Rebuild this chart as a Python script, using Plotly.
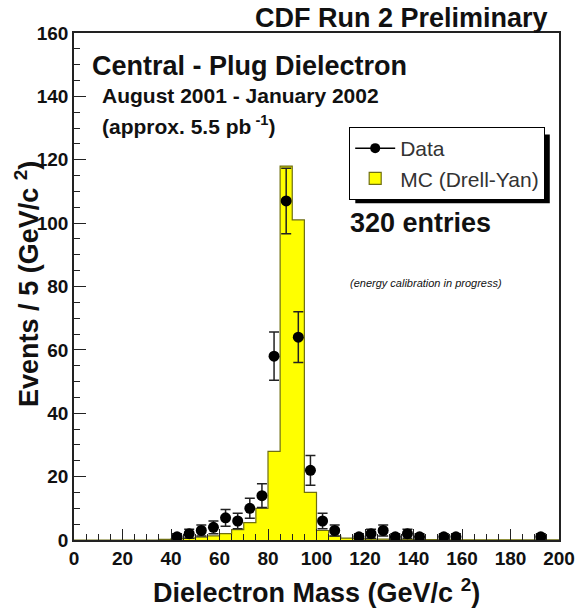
import math
import plotly.graph_objects as go

# Dielectron invariant mass, 5 GeV/c^2 bins from 0 to 200
bin_edges = [5 * i for i in range(41)]

# Drell-Yan Monte Carlo expectation per bin (lower edge -> content)
mc_counts = [
    0, 0, 0, 0, 0, 0, 0, 0.2,          # 0-40
    0.4, 0.6, 0.9, 1.3, 2.0, 3.3, 5.5, 10,  # 40-80
    28, 118, 101, 15, 3.0, 1.2, 0.6, 0.4,    # 80-120
    0.3, 0.25, 0.2, 0.15, 0.12, 0.1, 0.08, 0.07,  # 120-160
    0.06, 0.05, 0.05, 0.04, 0.04, 0.03, 0.03, 0.03,  # 160-200
]

# Observed events (non-empty bins only), bin centres and counts
data_mass = [42.5, 47.5, 52.5, 57.5, 62.5, 67.5, 72.5, 77.5,
             82.5, 87.5, 92.5, 97.5, 102.5, 107.5,
             117.5, 122.5, 127.5, 132.5, 137.5, 142.5, 152.5, 157.5, 192.5]
data_counts = [1, 2, 3, 4, 7, 6, 10, 14,
               58, 107, 64, 22, 6, 3,
               1, 2, 3, 1, 2, 1, 1, 1, 1]
data_errors = [math.sqrt(n) for n in data_counts]

x_ticks = list(range(0, 201, 20))
y_ticks = list(range(0, 161, 20))

FONT = "Liberation Sans"
INK = "#111111"

fig = go.Figure()

# MC histogram as a filled step outline
step_x = bin_edges
step_y = mc_counts + [mc_counts[-1]]
fig.add_trace(go.Scatter(
    x=step_x, y=step_y, mode="lines", line_shape="hv",
    line=dict(color="#6e6e12", width=1.2),
    fill="tozeroy", fillcolor="#ffff00",
    name="MC (Drell-Yan)", showlegend=False, hoverinfo="skip",
))

# Data points with Poisson error bars
fig.add_trace(go.Scatter(
    x=data_mass, y=data_counts, mode="markers",
    marker=dict(symbol="circle", size=11, color="black"),
    error_y=dict(type="data", array=data_errors, visible=True,
                 color="#222222", thickness=1.5, width=5),
    name="Data", showlegend=False,
))

# Legend entries
fig.add_trace(go.Scatter(
    x=[None], y=[None], mode="lines+markers",
    marker=dict(symbol="circle", size=10, color="black"),
    line=dict(color="black", width=1.5),
    name="Data",
))
fig.add_trace(go.Bar(
    x=[None], y=[None],
    marker=dict(color="#ffff00", line=dict(color="#6e6e12", width=1.2)),
    name="MC (Drell-Yan)",
))

def ann(text, x, y, size, xanchor="left", italic=False, bold=True, angle=0):
    t = f"<b>{text}</b>" if bold else text
    if italic:
        t = f"<i>{t}</i>"
    fig.add_annotation(
        text=t, x=x, y=y, xref="paper", yref="paper",
        xanchor=xanchor, yanchor="middle", showarrow=False, textangle=angle,
        font=dict(family=FONT, size=size, color=INK),
    )

ann("CDF Run 2 Preliminary", 0.981, 1.030, 27, xanchor="right")
ann("Central - Plug Dielectron", 0.033, 0.935, 27)
ann("August 2001 - January 2002", 0.054, 0.877, 21)
ann("(approx. 5.5 pb<sup> -1</sup>)", 0.054, 0.818, 21)
ann("320 entries", 0.565, 0.625, 27)
ann("(energy calibration in progress)", 0.565, 0.507, 11, italic=True, bold=False)

# Axis titles
ann("Dielectron Mass (GeV/c <sup>2</sup>)", 0.5, -0.100, 27, xanchor="center")
ann("Events / 5 (GeV/c <sup>2</sup>)", -0.097, 0.505, 27, xanchor="center", angle=-90)

# Drop shadow behind the legend box
fig.add_shape(type="rect", xref="paper", yref="paper",
              x0=0.580, x1=0.981, y0=0.664, y1=0.800,
              fillcolor="black", line=dict(width=0), layer="above")

axis_common = dict(
    showgrid=False, zeroline=False,
    showline=True, linecolor="#222222", linewidth=1.5, mirror=True,
    ticks="inside", tickcolor="#222222", tickwidth=1.2,
    tickfont=dict(family=FONT, size=19, color=INK, weight="bold"),
)

fig.update_xaxes(
    range=[0, 200], tickvals=x_ticks, ticklen=11,
    minor=dict(dtick=5, ticks="inside", ticklen=6, tickcolor="#222222", tickwidth=1),
    **axis_common,
)
fig.update_yaxes(
    range=[0, 160], tickvals=y_ticks, ticklen=12,
    minor=dict(dtick=5, ticks="inside", ticklen=6, tickcolor="#222222", tickwidth=1),
    **axis_common,
)

fig.update_layout(
    width=576, height=610,
    margin=dict(l=74, r=17, t=33, b=70, autoexpand=False),
    paper_bgcolor="white", plot_bgcolor="white",
    legend=dict(
        x=0.567, y=0.815, xanchor="left", yanchor="top",
        bgcolor="white", bordercolor="black", borderwidth=1.2,
        font=dict(family=FONT, size=21, color="#333333"),
        itemwidth=40, tracegroupgap=0,
    ),
    bargap=0,
    showlegend=True,
)

fig.write_html("out.html")
